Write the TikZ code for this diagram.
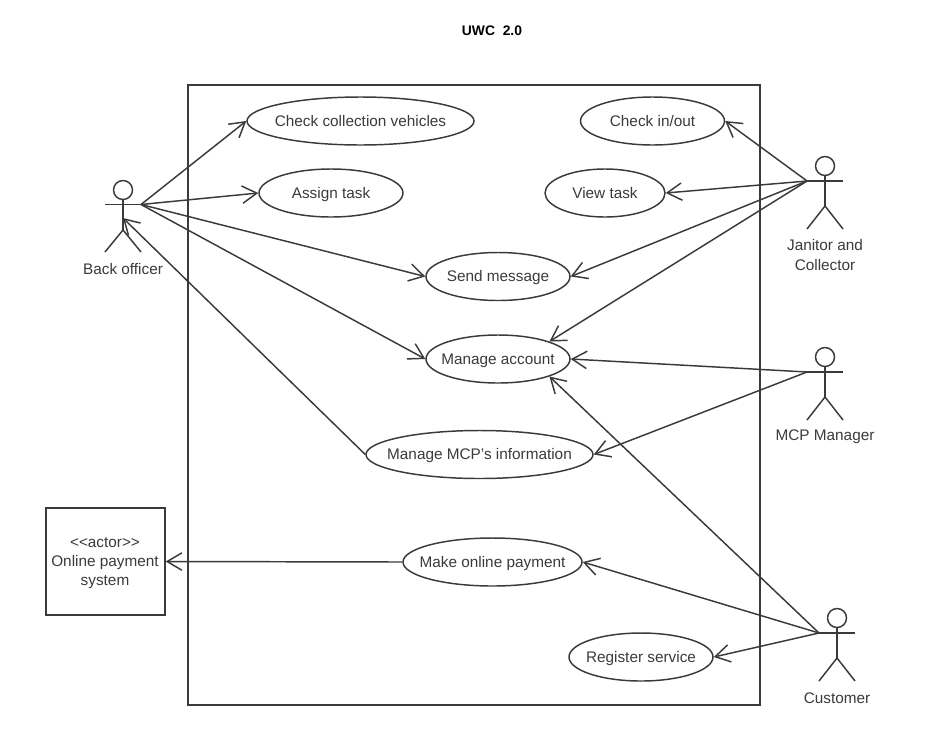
\documentclass[tikz,border=0pt]{standalone}
\usepackage{fontspec}
\setmainfont{Liberation Sans}
\usetikzlibrary{arrows.meta,shapes.geometric}
\definecolor{ink}{HTML}{3A3A3A}
\tikzset{
  x=0.75pt,y=-0.75pt,
  every path/.style={line width=1.1pt,color=ink},
  uc/.style={draw=ink,ellipse,inner sep=-14pt,text=ink,text height=8.2pt,text depth=0pt,minimum height=36pt,font=\fontsize{11.5pt}{13pt}\selectfont},
  lbl/.style={text=ink,align=center,font=\fontsize{11.5pt}{14.4pt}\selectfont,inner sep=0pt},
  assoc/.style={draw=ink,-{Straight Barb[length=11pt,width=13pt,line width=1.1pt]}},
}
\begin{document}
\begin{tikzpicture}
\useasboundingbox (0,0) rectangle (944,732);
\node[lbl,font=\fontsize{10.4pt}{12pt}\selectfont\bfseries,text=black] (title) at (492,31) {UWC\ \ 2.0};
\node[draw=ink,minimum width=429pt,minimum height=465pt,inner sep=0pt] (sys) at (474,395) {};

\node[uc,minimum width=170.25pt] (cc) at (360.5,121) {Check collection vehicles};
\node[uc,minimum width=108pt] (at) at (331,193) {Assign task};
\node[uc,minimum width=108pt] (ci) at (652.5,121) {Check in/out};
\node[uc,minimum width=90pt] (vt) at (605,193) {View task};
\node[uc,minimum width=108pt] (sm) at (498,276.5) {Send message};
\node[uc,minimum width=108pt] (ma) at (498,359) {Manage account};
\node[uc,minimum width=170.25pt] (mi) at (479.5,454.5) {Manage MCP's information};
\node[uc,minimum width=134.25pt] (mp) at (492.5,562) {Make online payment};
\node[uc,minimum width=108pt] (rs) at (641,657) {Register service};

\node[draw=ink,minimum width=89.25pt,minimum height=80.25pt,inner sep=0pt] (op) at (105.5,561.5) {};
\node[lbl] (opt) at (105,563) {{<}{<}actor{>}{>}\\Online payment\\system};

% actors
\coordinate (boR) at (141,204.5);
\draw (123,190) circle[radius=9.5];
\draw (105,204.5) -- (boR);
\draw (123,199.5) -- (123,230);
\draw (105,252) -- (123,230) -- (141,252);
\coordinate (boB) at (123,218);
\node[lbl] (bol) at (123,269) {Back officer};

\coordinate (jc) at (807,181);
\draw (825,166) circle[radius=9.5];
\draw (jc) -- (843,181);
\draw (825,175.5) -- (825,206);
\draw (807,229) -- (825,206) -- (843,229);
\node[lbl] (jcl) at (825,255) {Janitor and\\Collector};

\coordinate (mm) at (807,372);
\draw (825,357) circle[radius=9.5];
\draw (mm) -- (843,372);
\draw (825,366.5) -- (825,397);
\draw (807,420) -- (825,397) -- (843,420);
\node[lbl] (mml) at (825,437) {MCP Manager};

\coordinate (cu) at (819,633);
\draw (837,618) circle[radius=9.5];
\draw (cu) -- (855,633);
\draw (837,627.5) -- (837,658);
\draw (819,681) -- (837,658) -- (855,681);
\node[lbl] (cul) at (837,698) {Customer};

% connectors
\draw[assoc] (boR) -- (cc.west);
\draw[assoc] (boR) -- (at.west);
\draw[assoc] (boR) -- (sm.west);
\draw[assoc] (boR) -- (ma.west);
\draw[assoc] (mi.west) -- (boB);
\draw[assoc] (jc) -- (ci.east);
\draw[assoc] (jc) -- (vt.east);
\draw[assoc] (jc) -- (sm.east);
\draw[assoc] (jc) -- (ma.north east);
\draw[assoc] (mm) -- (ma.east);
\draw[assoc] (mm) -- (mi.east);
\draw[assoc] (cu) -- (ma.south east);
\draw[assoc] (cu) -- (mp.east);
\draw[assoc] (cu) -- (rs.east);
\draw[assoc] (mp.west) -- (op.east);
\end{tikzpicture}
\end{document}
